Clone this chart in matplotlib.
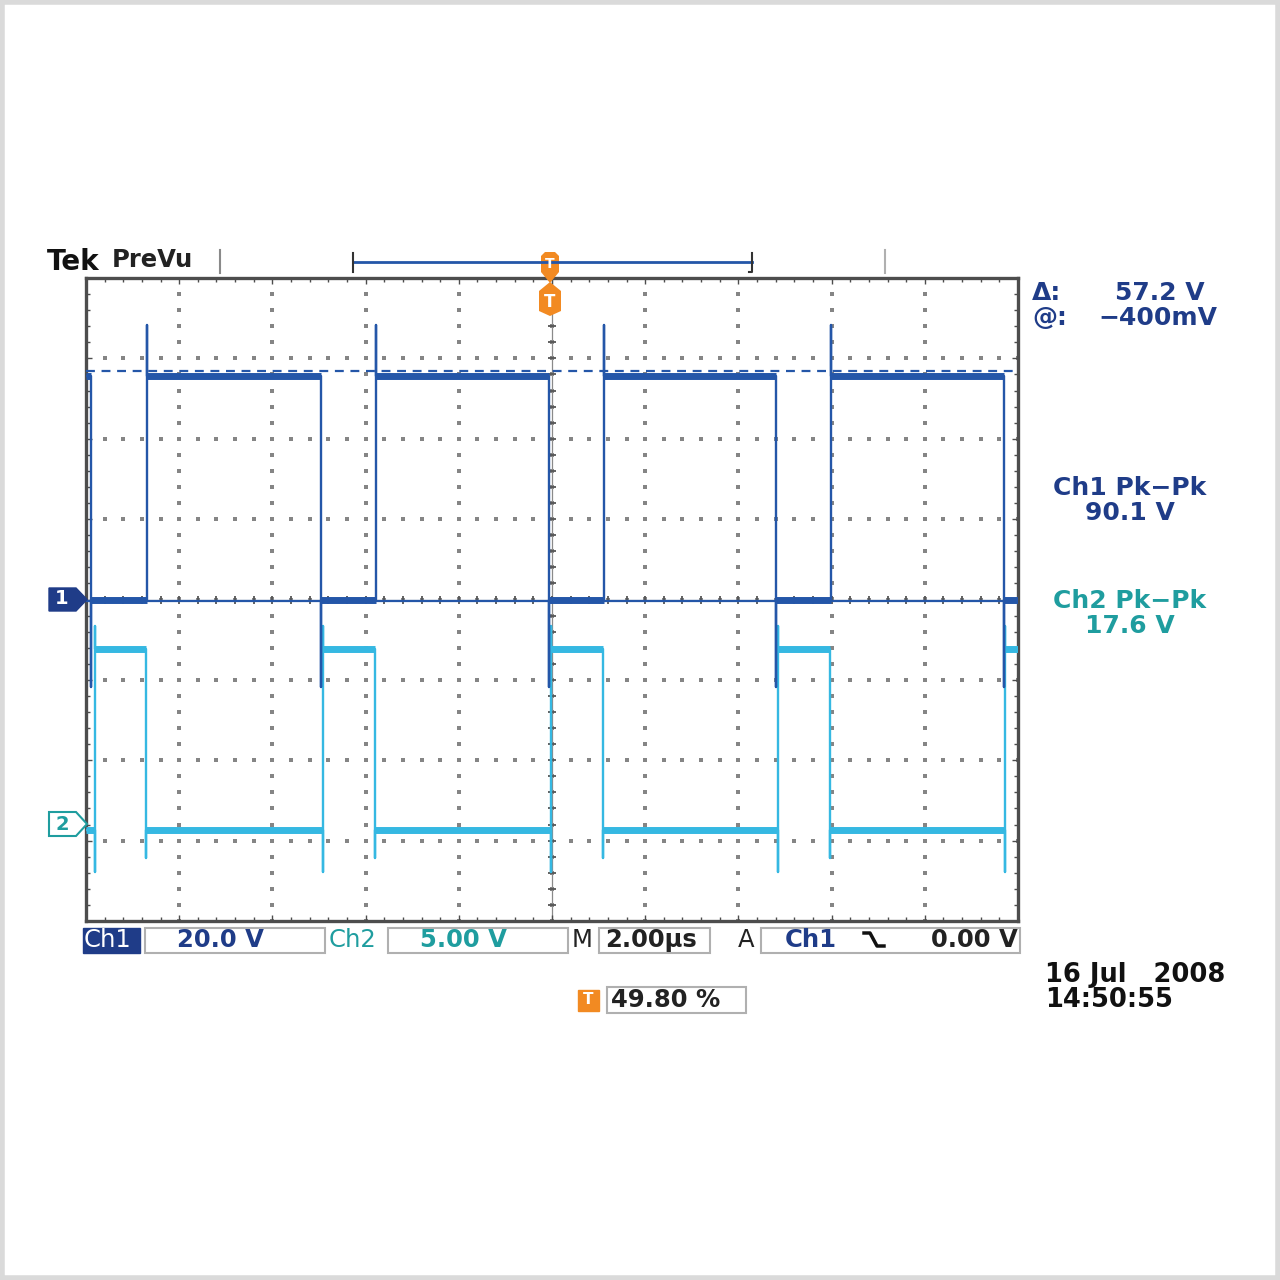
import numpy as np
import matplotlib
matplotlib.use("Agg")
import matplotlib.pyplot as plt
from matplotlib.lines import Line2D
from matplotlib.patches import Rectangle, Polygon

W = H = 1280

# scope settings
time_per_div_us = 2.0
ch1_volts_per_div = 20.0
ch2_volts_per_div = 5.0
ch2_ground_div = -2.79

# Ch1 - switch node, volts
ch1_fall_us = [-9.89, -4.96, -0.06, 4.81, 9.70]
ch1_rise_us = [-8.69, -3.78, 1.12, 5.99]
ch1_high_v = 55.6
ch1_low_v = 0.0
ch1_overshoot_v = 68.3
ch1_undershoot_v = -21.8

# Ch2 - gate drive, volts (relative to its ground marker)
ch2_rise_us = [-9.81, -4.91, -0.02, 4.85, 9.72]
ch2_fall_us = [-8.71, -3.80, 1.09, 5.97]
ch2_high_v = 10.9
ch2_low_v = -0.4
ch2_rise_dip_v = -3.0
ch2_rise_peak_v = 12.3
ch2_fall_dip_v = -2.1

# horizontal bar cursors
cursor_a_v = -0.4
cursor_b_v = 56.8

# readouts
delta_txt = "57.2 V"
at_txt = "\u2212400mV"
ch1_pkpk_txt = "90.1 V"
ch2_pkpk_txt = "17.6 V"
trig_pos_txt = "49.80 %"
date_txt = "16 Jul   2008"
time_txt = "14:50:55"

C1 = "#2456a8"
C1T = "#1f3c88"
C2 = "#35b8e2"
C2T = "#1f9d9f"
ORANGE = "#f28a22"
FRAME = "#4d4d4d"


def build_trace(rises, falls, start_high, high, low, rise_pts, fall_pts):
    # turn edge times into a step polyline (vertical edges incl. spikes)
    events = sorted([(t, "r") for t in rises] + [(t, "f") for t in falls])
    xs, ys = [-10.0], [high if start_high else low]
    segs = []
    seg_start, level = -10.0, ys[0]
    for t, kind in events:
        segs.append((seg_start, t, level))
        pts = rise_pts if kind == "r" else fall_pts
        xs += [t] * (len(pts) + 1)
        ys += [level] + pts
        level = pts[-1]
        seg_start = t
    xs.append(10.0)
    ys.append(level)
    segs.append((seg_start, 10.0, level))
    return np.array(xs), np.array(ys), segs


fig = plt.figure(figsize=(12.8, 12.8), dpi=100)
fig.patch.set_facecolor("white")


def fx(x):
    return x / W


def fy(y):
    return 1 - y / H


def ftext(x, y, s, **kw):
    kw.setdefault("va", "center")
    kw.setdefault("family", "DejaVu Sans")
    fig.text(fx(x), fy(y), s, **kw)


def fline(xs, ys, **kw):
    fig.add_artist(Line2D([fx(v) for v in xs], [fy(v) for v in ys],
                          transform=fig.transFigure, **kw))


def fbox(x0, y0, x1, y1, **kw):
    fig.add_artist(Rectangle((fx(x0), fy(y1)), (x1 - x0) / W, (y1 - y0) / H,
                             transform=fig.transFigure, **kw))


def fpoly(pts, **kw):
    fig.add_artist(Polygon([(fx(a), fy(b)) for a, b in pts],
                           transform=fig.transFigure, **kw))


# graticule
ax = fig.add_axes([86 / W, 1 - 921 / H, 932 / W, 643 / H])
ax.set_xlim(-5 * time_per_div_us, 5 * time_per_div_us)
ax.set_ylim(-4, 4)
for sp in ax.spines.values():
    sp.set_color(FRAME)
    sp.set_linewidth(2.4)
ax.set_xticks(np.arange(-10, 10.01, 2))
ax.set_xticks(np.arange(-10, 10.01, 0.4), minor=True)
ax.set_yticks(np.arange(-4, 4.01, 1))
ax.set_yticks(np.arange(-4, 4.01, 0.2), minor=True)
ax.tick_params(which="both", direction="in", top=True, right=True,
               labelbottom=False, labelleft=False, color=FRAME, width=1.0)
ax.tick_params(which="major", length=4)
ax.tick_params(which="minor", length=3)

dot_kw = dict(s=5, marker="s", color="#858585", linewidths=0, zorder=1)
for gx in np.arange(-8, 8.01, 2):
    yy = np.arange(-4, 4.01, 0.2)
    ax.scatter(np.full_like(yy, gx), yy, **dot_kw)
for gy in np.arange(-3, 3.01, 1):
    xx = np.arange(-10, 10.01, 0.4)
    ax.scatter(xx, np.full_like(xx, gy), **dot_kw)
# centre crosshair with fine ticks
ax.axvline(0, color="#8a8a8a", lw=0.9, zorder=1)
ax.axhline(0, color="#8a8a8a", lw=0.9, zorder=1)
yy = np.arange(-4, 4.01, 0.2)
ax.plot(np.zeros_like(yy), yy, ls="none", marker="_", ms=6, mew=1.3, color="#555555", zorder=1)
xx = np.arange(-10, 10.01, 0.4)
ax.plot(xx, np.zeros_like(xx), ls="none", marker="|", ms=6, mew=1.3, color="#555555", zorder=1)

# Ch2 trace
x2, y2, segs2 = build_trace(ch2_rise_us, ch2_fall_us, False, ch2_high_v, ch2_low_v,
                            [ch2_rise_dip_v, ch2_rise_peak_v, ch2_high_v],
                            [ch2_fall_dip_v, ch2_low_v])
to2 = lambda v: np.asarray(v) / ch2_volts_per_div + ch2_ground_div
ax.plot(x2, to2(y2), color=C2, lw=1.7, zorder=3)
for a, b, lv in segs2:
    ax.plot([a, b], [to2(lv), to2(lv)], color=C2, lw=5.0, solid_capstyle="butt", zorder=3)

# Ch1 trace
x1, y1, segs1 = build_trace(ch1_rise_us, ch1_fall_us, True, ch1_high_v, ch1_low_v,
                            [ch1_overshoot_v, ch1_high_v],
                            [ch1_undershoot_v, ch1_low_v])
to1 = lambda v: np.asarray(v) / ch1_volts_per_div
ax.plot(x1, to1(y1), color=C1, lw=1.7, zorder=4)
for a, b, lv in segs1:
    ax.plot([a, b], [to1(lv), to1(lv)], color=C1, lw=5.0, solid_capstyle="butt", zorder=4)

# cursors
ax.axhline(to1(cursor_a_v), color=C1, lw=1.6, zorder=5)
ax.axhline(to1(cursor_b_v), color=C1, lw=1.6, ls=(0, (4, 3)), zorder=5)

# outer light frame
fbox(2, 2, 1278, 1278, fill=False, ec="#dadada", lw=4)

# top header
ftext(47, 262, "Tek", fontsize=20, fontweight="bold", color="#111111")
ftext(112, 260, "PreVu", fontsize=17.5, fontweight="bold", color="#222222")
fline([220, 220], [250, 273], color="#8a8a8a", lw=1.5)
fline([885, 885], [250, 273], color="#b0b0b0", lw=1.5)
fline([353, 752], [262, 262], color=C1, lw=2)
fline([353, 353], [253, 272], color="#333333", lw=1.5)
fline([752, 752, 749], [253, 272, 272], color="#333333", lw=1.5)
fpoly([(541, 256), (545, 252), (555, 252), (559, 256), (559, 272), (550, 283), (541, 272)],
      fc=ORANGE, ec="none")
ftext(550, 264, "T", fontsize=10, fontweight="bold", color="white", ha="center")
fpoly([(550, 282), (561, 291), (561, 311), (550, 316), (539, 311), (539, 291)],
      fc=ORANGE, ec="none")
ftext(550, 302, "T", fontsize=12, fontweight="bold", color="white", ha="center")

# channel ground markers
fpoly([(49, 588), (76, 588), (87, 599.5), (76, 611), (49, 611)], fc=C1T, ec=C1T)
ftext(62, 599, "1", fontsize=14, fontweight="bold", color="white", ha="center")
fpoly([(49, 812), (76, 812), (87, 824), (76, 836), (49, 836)], fc="white", ec=C2T, lw=1.5)
ftext(62, 824, "2", fontsize=14, fontweight="bold", color=C2T, ha="center")

# right readouts
RS = 18
ftext(1032, 293, "\u0394:", fontsize=RS, fontweight="bold", color=C1T)
ftext(1205, 293, delta_txt, fontsize=RS, fontweight="bold", color=C1T, ha="right")
ftext(1032, 318, "@:", fontsize=RS, fontweight="bold", color=C1T)
ftext(1217, 318, at_txt, fontsize=RS, fontweight="bold", color=C1T, ha="right")
ftext(1130, 488, "Ch1 Pk\u2212Pk", fontsize=RS, fontweight="bold", color=C1T, ha="center")
ftext(1130, 513, ch1_pkpk_txt, fontsize=RS, fontweight="bold", color=C1T, ha="center")
ftext(1130, 601, "Ch2 Pk\u2212Pk", fontsize=RS, fontweight="bold", color=C2T, ha="center")
ftext(1130, 626, ch2_pkpk_txt, fontsize=RS, fontweight="bold", color=C2T, ha="center")

# bottom status bar
fbox(83, 928, 140, 953, fc=C1T, ec=C1T)
ftext(84, 940, "Ch1", fontsize=17.5, color="white")
fbox(145, 928, 325, 953, fill=False, ec="#b0b0b0", lw=1.5)
ftext(177, 940, "%.1f V" % ch1_volts_per_div, fontsize=17.5, fontweight="bold", color=C1T)
ftext(329, 940, "Ch2", fontsize=17.5, color=C2T)
fbox(388, 928, 568, 953, fill=False, ec="#b0b0b0", lw=1.5)
ftext(420, 940, "%.2f V" % ch2_volts_per_div, fontsize=17.5, fontweight="bold", color=C2T)
ftext(572, 940, "M", fontsize=17.5, color="#222222")
fbox(599, 928, 710, 953, fill=False, ec="#b0b0b0", lw=1.5)
ftext(605, 940, "%.2f\u00b5s" % time_per_div_us, fontsize=17.5, fontweight="bold", color="#222222")
ftext(738, 940, "A", fontsize=17.5, color="#222222")
fbox(761, 928, 1020, 953, fill=False, ec="#b0b0b0", lw=1.5)
ftext(785, 940, "Ch1", fontsize=17.5, fontweight="bold", color=C1T)
fline([864, 870, 877, 884], [933, 933, 946, 946], color="#111111", lw=2.5)
ftext(1018, 940, "0.00 V", fontsize=17.5, fontweight="bold", color="#222222", ha="right")

fbox(578, 990, 599, 1011, fc=ORANGE, ec=ORANGE)
ftext(588.5, 1000, "T", fontsize=11, fontweight="bold", color="white", ha="center")
fbox(607, 987, 746, 1013, fill=False, ec="#b0b0b0", lw=1.5)
ftext(611, 1000, trig_pos_txt, fontsize=17.5, fontweight="bold", color="#222222")

ftext(1045, 975, date_txt, fontsize=18.5, fontweight="bold", color="#111111")
ftext(1045, 1000, time_txt, fontsize=18.5, fontweight="bold", color="#111111")

fig.savefig("out.png", dpi=100, facecolor="white")
